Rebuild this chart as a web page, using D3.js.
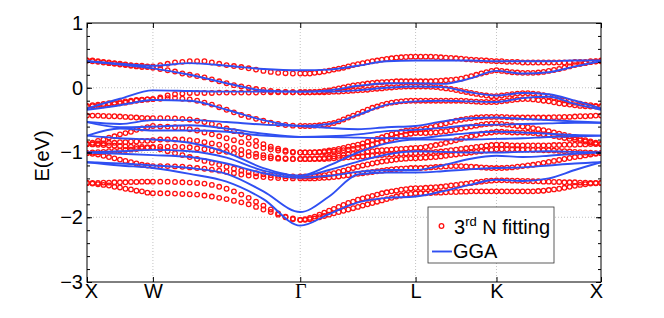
<!DOCTYPE html>
<html lang="en">
<head>
<meta charset="UTF-8">
<title>Band structure: 3rd N fitting vs GGA</title>
<script src="https://cdnjs.cloudflare.com/ajax/libs/d3/7.8.5/d3.min.js"></script>
<style>
  body { margin: 0; background: #fff; }
  svg { display: block; font-family: 'Liberation Sans', Arial, sans-serif; }
  .grid line { stroke: #b4b4b4; stroke-width: 0.8; stroke-dasharray: 1,2; }
  .fit { fill: none; stroke: #ff1010; stroke-width: 1.3; }
  .gga { fill: none; stroke: #2f4ff2; stroke-width: 1.9; }
  .axis text { font-size: 20px; fill: #000; }
  .axis line, .axis path { stroke: #000; }
</style>
</head>
<body>
<div id="chart"></div>
<script>
// path through the Brillouin zone
const kLabels = ["X", "W", "Γ", "L", "K", "X"];
const kTicks = [0, 0.5, 1.618, 2.493, 3.107, 3.9];
const yTicks = [1, 0, -1, -2, -3];

// GGA bands, sampled at 2/4/4/3/4 steps per segment (eV)
const gga1  = [0.41, 0.37, 0.34, 0.38, 0.34, 0.29, 0.27, 0.28, 0.34, 0.41, 0.42, 0.42, 0.42, 0.41, 0.41, 0.41, 0.42, 0.42];
const gga2  = [0.41, 0.36, 0.30, 0.20, 0.07, -0.04, -0.06, -0.04, 0.03, 0.07, 0.07, 0.06, 0.14, 0.26, 0.22, 0.24, 0.33, 0.41];
const gga3  = [-0.32, -0.17, -0.04, -0.05, -0.06, -0.06, -0.06, -0.06, -0.04, 0.0, 0.02, 0.01, -0.07, -0.12, -0.08, -0.10, -0.20, -0.32];
const gga4  = [-0.34, -0.27, -0.19, -0.20, -0.34, -0.50, -0.59, -0.56, -0.42, -0.26, -0.21, -0.20, -0.21, -0.22, -0.16, -0.14, -0.25, -0.34];
const gga5  = [-0.53, -0.56, -0.50, -0.50, -0.53, -0.57, -0.59, -0.62, -0.64, -0.61, -0.59, -0.52, -0.47, -0.46, -0.48, -0.50, -0.52, -0.54];
const gga6  = [-0.53, -0.61, -0.60, -0.58, -0.63, -0.71, -0.76, -0.75, -0.72, -0.67, -0.65, -0.62, -0.58, -0.57, -0.56, -0.55, -0.54, -0.54];
const gga7  = [-0.74, -0.63, -0.66, -0.66, -0.68, -0.74, -0.76, -0.76, -0.77, -0.78, -0.78, -0.74, -0.70, -0.68, -0.69, -0.71, -0.73, -0.74];
const gga8  = [-0.74, -0.78, -0.80, -0.85, -1.00, -1.24, -1.36, -1.20, -1.00, -0.86, -0.80, -0.80, -0.80, -0.79, -0.78, -0.76, -0.75, -0.74];
const gga9  = [-1.00, -0.98, -0.96, -0.98, -1.08, -1.28, -1.36, -1.27, -1.14, -1.03, -0.98, -0.99, -1.00, -1.00, -0.99, -0.98, -0.99, -1.00];
const gga10 = [-1.00, -1.02, -1.04, -1.07, -1.17, -1.32, -1.39, -1.36, -1.30, -1.27, -1.27, -1.20, -1.10, -1.05, -1.07, -1.05, -1.02, -1.00];
const gga11 = [-1.15, -1.17, -1.20, -1.24, -1.33, -1.60, -1.92, -1.68, -1.34, -1.31, -1.31, -1.29, -1.26, -1.24, -1.23, -1.20, -1.17, -1.15];
const gga12 = [-1.15, -1.20, -1.24, -1.33, -1.45, -1.72, -2.13, -1.95, -1.77, -1.70, -1.68, -1.60, -1.50, -1.42, -1.44, -1.40, -1.27, -1.15];

// 3rd nearest-neighbour fit, sampled at 12/20/24/16/20 steps per segment (eV)
const fit1 = [
  0.42,0.42,0.41,0.40,0.39,0.38,0.37,0.36,0.35,0.34,0.34,0.33,0.33,
  0.35,0.37,0.39,0.40,0.41,0.41,0.41,0.39,0.37,0.35,0.335,0.32,0.30,0.28,0.26,0.245,0.23,0.225,0.22,0.22,
  0.22,0.22,0.23,0.24,0.25,0.265,0.28,0.295,0.31,0.33,0.35,0.365,0.38,0.395,0.41,0.42,0.435,0.445,0.455,0.465,0.47,0.475,0.48,0.48,
  0.48,0.48,0.48,0.475,0.47,0.465,0.46,0.455,0.45,0.44,0.435,0.43,0.425,0.42,0.415,0.41,
  0.41,0.40,0.40,0.40,0.39,0.39,0.39,0.39,0.39,0.39,0.39,0.39,0.39,0.39,0.40,0.40,0.40,0.41,0.41,0.42];
const fit2 = [
  0.42,0.41,0.40,0.39,0.38,0.37,0.36,0.35,0.34,0.33,0.32,0.32,0.31,
  0.29,0.27,0.25,0.22,0.20,0.18,0.16,0.13,0.10,0.07,0.04,0.02,0.0,-0.02,-0.035,-0.05,-0.06,-0.065,-0.07,-0.07,
  -0.07,-0.07,-0.065,-0.06,-0.05,-0.04,-0.025,-0.01,0.005,0.02,0.035,0.045,0.055,0.065,0.075,0.08,0.085,0.09,0.095,0.10,0.10,0.10,0.10,0.10,
  0.10,0.10,0.10,0.105,0.11,0.115,0.12,0.13,0.14,0.16,0.18,0.20,0.22,0.24,0.26,0.27,
  0.26,0.25,0.24,0.235,0.23,0.23,0.23,0.235,0.245,0.26,0.275,0.29,0.31,0.33,0.35,0.365,0.38,0.395,0.405,0.41];
const fit3 = [
  -0.28,-0.27,-0.26,-0.25,-0.24,-0.23,-0.22,-0.21,-0.20,-0.19,-0.185,-0.18,-0.175,
  -0.15,-0.12,-0.10,-0.09,-0.08,-0.08,-0.08,-0.08,-0.075,-0.075,-0.075,-0.075,-0.075,-0.075,-0.07,-0.07,-0.07,-0.07,-0.07,-0.07,
  -0.07,-0.07,-0.07,-0.07,-0.07,-0.065,-0.06,-0.06,-0.055,-0.05,-0.045,-0.04,-0.035,-0.03,-0.02,-0.015,-0.01,0.0,0.005,0.01,0.015,0.02,0.02,0.02,
  0.02,0.02,0.015,0.01,0.0,-0.01,-0.02,-0.035,-0.05,-0.065,-0.08,-0.095,-0.11,-0.12,-0.13,-0.13,
  -0.12,-0.11,-0.10,-0.09,-0.085,-0.085,-0.09,-0.10,-0.115,-0.135,-0.155,-0.175,-0.195,-0.215,-0.23,-0.245,-0.26,-0.27,-0.28,-0.285];
const fit4 = [
  -0.29,-0.285,-0.28,-0.27,-0.26,-0.25,-0.24,-0.23,-0.215,-0.20,-0.19,-0.18,-0.175,
  -0.17,-0.16,-0.16,-0.17,-0.18,-0.20,-0.23,-0.26,-0.30,-0.34,-0.38,-0.42,-0.45,-0.48,-0.51,-0.54,-0.56,-0.575,-0.585,-0.59,
  -0.59,-0.59,-0.585,-0.58,-0.57,-0.56,-0.545,-0.52,-0.49,-0.46,-0.43,-0.40,-0.37,-0.34,-0.31,-0.29,-0.265,-0.245,-0.23,-0.22,-0.21,-0.205,-0.20,-0.20,
  -0.20,-0.20,-0.20,-0.20,-0.20,-0.20,-0.20,-0.20,-0.20,-0.205,-0.21,-0.215,-0.22,-0.22,-0.22,-0.22,
  -0.21,-0.20,-0.19,-0.18,-0.175,-0.175,-0.18,-0.19,-0.20,-0.21,-0.225,-0.24,-0.25,-0.26,-0.27,-0.28,-0.285,-0.29,-0.29,-0.29];
const fit5 = [
  -0.43,-0.43,-0.43,-0.435,-0.44,-0.44,-0.445,-0.45,-0.455,-0.46,-0.465,-0.47,-0.47,
  -0.47,-0.47,-0.475,-0.48,-0.49,-0.51,-0.53,-0.56,-0.59,-0.63,-0.67,-0.72,-0.77,-0.82,-0.87,-0.91,-0.94,-0.97,-0.99,-1.0,
  -1.0,-1.0,-0.995,-0.99,-0.98,-0.97,-0.96,-0.945,-0.93,-0.91,-0.895,-0.88,-0.86,-0.835,-0.81,-0.79,-0.765,-0.74,-0.72,-0.70,-0.68,-0.665,-0.655,-0.65,
  -0.64,-0.63,-0.61,-0.59,-0.57,-0.55,-0.53,-0.51,-0.495,-0.48,-0.47,-0.46,-0.455,-0.45,-0.45,-0.45,
  -0.45,-0.455,-0.46,-0.46,-0.46,-0.46,-0.46,-0.46,-0.46,-0.46,-0.455,-0.455,-0.45,-0.45,-0.445,-0.44,-0.44,-0.435,-0.43,-0.43];
const fit6 = [
  -0.87,-0.85,-0.82,-0.80,-0.77,-0.75,-0.72,-0.70,-0.68,-0.65,-0.63,-0.61,-0.59,
  -0.60,-0.60,-0.61,-0.62,-0.64,-0.66,-0.69,-0.72,-0.75,-0.78,-0.81,-0.84,-0.87,-0.90,-0.93,-0.95,-0.97,-0.99,-1.0,-1.0,
  -1.0,-1.0,-1.0,-1.0,-0.995,-0.99,-0.985,-0.975,-0.965,-0.955,-0.945,-0.93,-0.915,-0.90,-0.88,-0.86,-0.84,-0.815,-0.79,-0.765,-0.745,-0.725,-0.71,-0.70,
  -0.70,-0.70,-0.695,-0.69,-0.68,-0.67,-0.66,-0.645,-0.63,-0.615,-0.60,-0.585,-0.57,-0.56,-0.555,-0.55,
  -0.56,-0.57,-0.58,-0.59,-0.60,-0.61,-0.625,-0.64,-0.655,-0.67,-0.69,-0.71,-0.73,-0.75,-0.77,-0.79,-0.81,-0.83,-0.85,-0.87];
const fit7 = [
  -0.87,-0.87,-0.86,-0.86,-0.85,-0.85,-0.84,-0.84,-0.83,-0.83,-0.82,-0.82,-0.81,
  -0.80,-0.80,-0.80,-0.80,-0.81,-0.82,-0.84,-0.86,-0.88,-0.90,-0.93,-0.96,-0.99,-1.02,-1.04,-1.06,-1.08,-1.09,-1.10,-1.10,
  -1.10,-1.10,-1.095,-1.09,-1.085,-1.07,-1.06,-1.05,-1.04,-1.03,-1.02,-1.01,-1.0,-0.99,-0.98,-0.97,-0.965,-0.96,-0.955,-0.95,-0.945,-0.94,-0.935,-0.93,
  -0.925,-0.915,-0.90,-0.885,-0.87,-0.85,-0.83,-0.81,-0.79,-0.77,-0.75,-0.73,-0.71,-0.70,-0.69,-0.68,
  -0.68,-0.685,-0.69,-0.69,-0.69,-0.695,-0.70,-0.71,-0.72,-0.73,-0.745,-0.76,-0.775,-0.79,-0.80,-0.815,-0.83,-0.845,-0.86,-0.87];
const fit8 = [
  -0.87,-0.875,-0.88,-0.885,-0.89,-0.895,-0.90,-0.905,-0.91,-0.915,-0.915,-0.92,-0.92,
  -0.91,-0.91,-0.91,-0.915,-0.92,-0.935,-0.95,-0.965,-0.98,-0.99,-1.01,-1.03,-1.05,-1.065,-1.08,-1.09,-1.095,-1.10,-1.10,-1.10,
  -1.10,-1.10,-1.10,-1.10,-1.10,-1.095,-1.09,-1.085,-1.08,-1.075,-1.07,-1.065,-1.06,-1.055,-1.05,-1.045,-1.04,-1.035,-1.03,-1.025,-1.02,-1.015,-1.01,-1.01,
  -1.005,-1.0,-0.995,-0.99,-0.985,-0.975,-0.965,-0.955,-0.945,-0.935,-0.925,-0.915,-0.905,-0.895,-0.885,-0.88,
  -0.88,-0.885,-0.89,-0.89,-0.89,-0.89,-0.89,-0.89,-0.89,-0.89,-0.885,-0.885,-0.88,-0.88,-0.88,-0.875,-0.875,-0.87,-0.87,-0.87];
const fit9 = [
  -1.01,-1.0,-0.995,-0.99,-0.98,-0.975,-0.97,-0.96,-0.955,-0.945,-0.935,-0.93,-0.92,
  -0.95,-0.98,-1.01,-1.04,-1.07,-1.10,-1.13,-1.16,-1.19,-1.22,-1.25,-1.28,-1.30,-1.32,-1.335,-1.35,-1.36,-1.365,-1.37,-1.37,
  -1.37,-1.37,-1.365,-1.36,-1.35,-1.335,-1.32,-1.30,-1.28,-1.26,-1.24,-1.22,-1.20,-1.185,-1.17,-1.155,-1.14,-1.13,-1.12,-1.11,-1.10,-1.095,-1.09,-1.09,
  -1.085,-1.08,-1.075,-1.07,-1.06,-1.05,-1.04,-1.03,-1.02,-1.01,-1.0,-0.99,-0.98,-0.97,-0.96,-0.95,
  -0.95,-0.95,-0.95,-0.95,-0.955,-0.955,-0.96,-0.96,-0.965,-0.965,-0.97,-0.975,-0.98,-0.985,-0.99,-0.995,-1.0,-1.005,-1.01,-1.01];
const fit10 = [
  -1.01,-1.02,-1.03,-1.05,-1.07,-1.09,-1.11,-1.13,-1.15,-1.17,-1.19,-1.20,-1.21,
  -1.21,-1.21,-1.215,-1.22,-1.23,-1.24,-1.25,-1.265,-1.28,-1.30,-1.32,-1.34,-1.355,-1.37,-1.38,-1.39,-1.395,-1.40,-1.40,-1.40,
  -1.40,-1.40,-1.40,-1.395,-1.39,-1.385,-1.38,-1.37,-1.36,-1.35,-1.34,-1.33,-1.32,-1.31,-1.30,-1.29,-1.28,-1.27,-1.26,-1.255,-1.25,-1.245,-1.24,-1.24,
  -1.24,-1.235,-1.23,-1.225,-1.22,-1.215,-1.21,-1.21,-1.21,-1.215,-1.22,-1.225,-1.23,-1.235,-1.24,-1.24,
  -1.24,-1.235,-1.23,-1.22,-1.21,-1.20,-1.19,-1.175,-1.16,-1.145,-1.13,-1.115,-1.10,-1.085,-1.07,-1.06,-1.045,-1.03,-1.02,-1.01];
const fit11 = [
  -1.47,-1.47,-1.47,-1.465,-1.465,-1.46,-1.46,-1.46,-1.455,-1.455,-1.45,-1.45,-1.45,
  -1.45,-1.45,-1.455,-1.46,-1.465,-1.47,-1.48,-1.50,-1.53,-1.56,-1.60,-1.65,-1.70,-1.76,-1.82,-1.88,-1.94,-1.99,-2.02,-2.04,
  -2.03,-2.01,-1.99,-1.96,-1.93,-1.90,-1.87,-1.84,-1.81,-1.78,-1.76,-1.73,-1.71,-1.69,-1.67,-1.65,-1.63,-1.615,-1.60,-1.59,-1.575,-1.565,-1.555,-1.55,
  -1.55,-1.545,-1.54,-1.535,-1.53,-1.52,-1.51,-1.50,-1.49,-1.48,-1.47,-1.46,-1.45,-1.44,-1.435,-1.43,
  -1.43,-1.43,-1.435,-1.435,-1.44,-1.44,-1.445,-1.445,-1.45,-1.45,-1.455,-1.455,-1.46,-1.46,-1.46,-1.465,-1.465,-1.47,-1.47,-1.47];
const fit12 = [
  -1.47,-1.48,-1.49,-1.50,-1.51,-1.53,-1.54,-1.56,-1.57,-1.59,-1.60,-1.62,-1.63,
  -1.63,-1.63,-1.635,-1.64,-1.645,-1.65,-1.665,-1.68,-1.70,-1.72,-1.745,-1.77,-1.80,-1.84,-1.88,-1.92,-1.96,-2.0,-2.03,-2.04,
  -2.04,-2.03,-2.02,-2.0,-1.98,-1.96,-1.94,-1.92,-1.90,-1.88,-1.86,-1.84,-1.82,-1.80,-1.78,-1.76,-1.74,-1.72,-1.70,-1.68,-1.665,-1.65,-1.64,-1.63,
  -1.63,-1.63,-1.625,-1.62,-1.62,-1.615,-1.61,-1.61,-1.605,-1.605,-1.60,-1.60,-1.60,-1.60,-1.60,-1.60,
  -1.60,-1.60,-1.60,-1.60,-1.60,-1.60,-1.60,-1.595,-1.59,-1.58,-1.57,-1.56,-1.545,-1.53,-1.515,-1.50,-1.49,-1.48,-1.475,-1.47];

const ggaBands = [gga1, gga2, gga3, gga4, gga5, gga6, gga7, gga8, gga9, gga10, gga11, gga12];
const fitBands = [fit1, fit2, fit3, fit4, fit5, fit6, fit7, fit8, fit9, fit10, fit11, fit12];

// k grid: evenly spaced steps inside each segment of the path
function pathGrid(steps) {
  const ks = [kTicks[0]];
  steps.forEach((n, s) => {
    const a = kTicks[s], b = kTicks[s + 1];
    for (let j = 1; j <= n; j++) ks.push(a + (b - a) * j / n);
  });
  return ks;
}
const kGGA = pathGrid([2, 4, 4, 3, 4]);
const kFit = pathGrid([12, 20, 24, 16, 20]);

const width = 664, height = 318;
const plot = { left: 87, right: 601, top: 23, bottom: 282 };

const svg = d3.select("#chart").append("svg")
  .attr("width", width)
  .attr("height", height);

svg.append("rect").attr("width", width).attr("height", height).attr("fill", "#fff");

const x = d3.scaleLinear().domain([kTicks[0], kTicks[kTicks.length - 1]]).range([plot.left, plot.right]);
const y = d3.scaleLinear().domain([-3, 1]).range([plot.bottom, plot.top]);

// dotted grid
const grid = svg.append("g").attr("class", "grid");
grid.selectAll(".gx").data(kTicks.slice(1, -1)).enter().append("line")
  .attr("x1", d => x(d)).attr("x2", d => x(d))
  .attr("y1", plot.top).attr("y2", plot.bottom);
grid.selectAll(".gy").data(yTicks.slice(1, -1)).enter().append("line")
  .attr("x1", plot.left).attr("x2", plot.right)
  .attr("y1", d => y(d)).attr("y2", d => y(d));

svg.append("clipPath").attr("id", "clip").append("rect")
  .attr("x", plot.left).attr("y", plot.top)
  .attr("width", plot.right - plot.left).attr("height", plot.bottom - plot.top);

const bands = svg.append("g").attr("clip-path", "url(#clip)");

// fitted bands as open circles
fitBands.forEach(band => {
  const pts = band.slice(0, kFit.length).map((e, i) => [kFit[i], e]);
  bands.append("g").selectAll("circle").data(pts).enter().append("circle")
    .attr("class", "fit")
    .attr("cx", d => x(d[0]))
    .attr("cy", d => y(d[1]))
    .attr("r", 2.3);
});

// GGA bands as lines
const line = d3.line()
  .x((d, i) => x(kGGA[i]))
  .y(d => y(d))
  .curve(d3.curveMonotoneX);

ggaBands.forEach(band => {
  bands.append("path").attr("class", "gga").attr("d", line(band));
});

// axes, ticks pointing inward
const minor = d3.range(-3, 1.001, 0.2).map(v => +v.toFixed(1));
const fmt = d3.format("d");

svg.append("g").attr("class", "axis")
  .attr("transform", `translate(${plot.left},0)`)
  .call(d3.axisLeft(y).tickValues(minor).tickSize(-3).tickFormat(""))
  .call(g => g.select(".domain").remove());
svg.append("g").attr("class", "axis")
  .attr("transform", `translate(${plot.right},0)`)
  .call(d3.axisRight(y).tickValues(minor).tickSize(-3).tickFormat(""))
  .call(g => g.select(".domain").remove());

svg.append("g").attr("class", "axis")
  .attr("transform", `translate(${plot.left},0)`)
  .call(d3.axisLeft(y).tickValues(yTicks).tickSize(-5).tickPadding(4).tickFormat(fmt))
  .call(g => g.select(".domain").remove());
svg.append("g").attr("class", "axis")
  .attr("transform", `translate(${plot.right},0)`)
  .call(d3.axisRight(y).tickValues(yTicks).tickSize(-5).tickFormat(""))
  .call(g => g.select(".domain").remove());

const xAxis = svg.append("g").attr("class", "axis")
  .attr("transform", `translate(0,${plot.bottom})`)
  .call(d3.axisBottom(x).tickValues(kTicks).tickSize(-5).tickPadding(2)
    .tickFormat((d, i) => kLabels[i]))
  .call(g => g.select(".domain").remove());
xAxis.selectAll("text").filter(t => t === kTicks[2])
  .style("font-family", "'Liberation Serif', serif");
// end labels sit slightly inside the frame, as in the original
xAxis.selectAll("text").filter(t => t === kTicks[0]).attr("dx", 4);
xAxis.selectAll("text").filter(t => t === kTicks[kTicks.length - 1]).attr("dx", -5);

svg.append("g").attr("class", "axis")
  .attr("transform", `translate(0,${plot.top})`)
  .call(d3.axisTop(x).tickValues(kTicks).tickSize(-5).tickFormat(""))
  .call(g => g.select(".domain").remove());

// frame
svg.append("rect")
  .attr("x", plot.left).attr("y", plot.top)
  .attr("width", plot.right - plot.left).attr("height", plot.bottom - plot.top)
  .attr("fill", "none").attr("stroke", "#000").attr("stroke-width", 1);

// y label
svg.append("text")
  .attr("transform", `translate(49,156) rotate(-90)`)
  .attr("text-anchor", "middle")
  .style("font-size", "20px")
  .text("E(eV)");

// legend
const legend = svg.append("g");
legend.append("rect")
  .attr("x", 428).attr("y", 207).attr("width", 126).attr("height", 56)
  .attr("fill", "#fff").attr("stroke", "#333").attr("stroke-width", 0.8);
legend.append("circle").attr("class", "fit").attr("cx", 441.5).attr("cy", 226).attr("r", 2.3);
legend.append("line")
  .attr("x1", 432).attr("x2", 452).attr("y1", 251.5).attr("y2", 251.5)
  .attr("stroke", "#2f4ff2").attr("stroke-width", 1.9);
const t1 = legend.append("text").attr("x", 454).attr("y", 234).style("font-size", "20px");
t1.append("tspan").text("3");
t1.append("tspan").attr("dy", -8).style("font-size", "13px").text("rd");
t1.append("tspan").attr("dy", 8).text(" N fitting");
legend.append("text").attr("x", 453).attr("y", 258).style("font-size", "20px").text("GGA");
</script>
</body>
</html>
